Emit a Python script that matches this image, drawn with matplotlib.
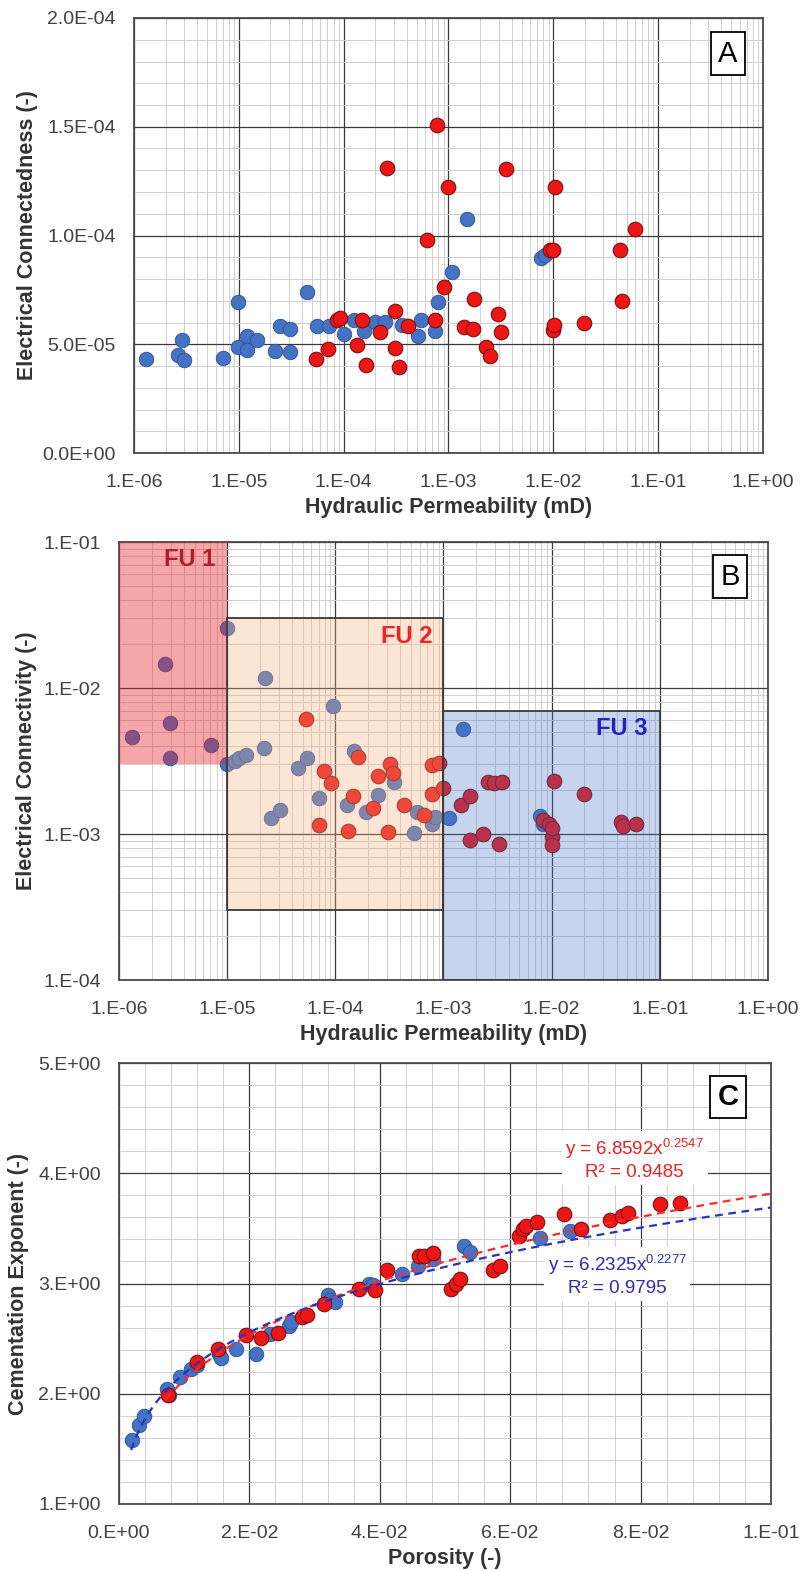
import numpy as np
import matplotlib
matplotlib.use("Agg")
import matplotlib.pyplot as plt
from matplotlib.ticker import FixedLocator, MultipleLocator, LogLocator, NullFormatter
from matplotlib.patches import Rectangle

plt.rcParams['font.family'] = ['Liberation Sans', 'DejaVu Sans']
plt.rcParams['mathtext.fontset'] = 'custom'
plt.rcParams['mathtext.rm'] = 'Liberation Sans'
plt.rcParams['mathtext.it'] = 'Liberation Sans:italic'

# ---------------- Panel A: electrical connectedness vs permeability ----------------
a_blue_perm = [1.3e-6, 2.6e-6, 2.9e-6, 3.0e-6, 7.0e-6, 9.8e-6, 9.8e-6, 1.2e-5, 1.2e-5,
               1.48e-5, 2.2e-5, 2.48e-5, 3.1e-5, 3.1e-5, 4.5e-5, 5.6e-5, 7.2e-5, 1.0e-4,
               1.26e-4, 1.55e-4, 2.0e-4, 2.47e-4, 3.6e-4, 5.1e-4, 5.5e-4, 7.5e-4, 8.0e-4,
               1.07e-3, 1.49e-3, 7.6e-3, 8.3e-3]
a_blue_conn = [43.2, 45.1, 51.8, 42.6, 43.7, 69.3, 48.7, 53.9, 47.5, 52.1, 46.7, 58.2, 57.2,
               46.3, 73.9, 58.2, 58.2, 54.7, 61.0, 55.9, 60.2, 60.2, 59.0, 53.6, 61.0, 55.9,
               69.4, 83.2, 107.7, 89.7, 91.2]
a_red_perm = [5.4e-5, 7.1e-5, 8.7e-5, 9.3e-5, 1.33e-4, 1.5e-4, 1.64e-4, 2.2e-4, 2.6e-4,
              3.1e-4, 3.1e-4, 3.4e-4, 4.1e-4, 6.3e-4, 7.5e-4, 7.7e-4, 9.1e-4, 9.8e-4,
              1.41e-3, 1.73e-3, 1.75e-3, 2.3e-3, 2.48e-3, 2.96e-3, 3.2e-3, 3.5e-3, 9.3e-3,
              9.9e-3, 9.9e-3, 1.02e-2, 1.04e-2, 1.95e-2, 4.3e-2, 4.5e-2, 6.05e-2]
a_red_conn = [43.2, 48.0, 61.3, 62.0, 49.8, 61.0, 40.6, 55.6, 131.0, 65.1, 48.3, 39.4, 58.2,
              98.1, 61.0, 151.0, 76.3, 122.3, 57.8, 57.2, 71.0, 48.7, 44.4, 63.9, 55.6, 130.7,
              93.2, 93.5, 56.7, 59.0, 122.3, 59.8, 93.5, 69.7, 103.0]
a_conn_unit = 1e-6
a_yticks = [0.0, 5e-5, 1e-4, 1.5e-4, 2e-4]
a_yticklabels = ['0.0E+00', '5.0E-05', '1.0E-04', '1.5E-04', '2.0E-04']
perm_ticks = [1e-6, 1e-5, 1e-4, 1e-3, 1e-2, 1e-1, 1e0]
perm_ticklabels = ['1.E-06', '1.E-05', '1.E-04', '1.E-03', '1.E-02', '1.E-01', '1.E+00']

# ---------------- Panel B: electrical connectivity vs permeability ----------------
b_blue_perm = [1.31e-6, 2.64e-6, 2.97e-6, 2.97e-6, 7.05e-6, 1.0e-5, 1.0e-5, 1.19e-5, 1.29e-5,
               1.48e-5, 2.2e-5, 2.23e-5, 2.55e-5, 3.1e-5, 4.5e-5, 5.5e-5, 7.0e-5, 9.6e-5,
               1.27e-4, 1.5e-4, 1.92e-4, 2.5e-4, 3.5e-4, 5.3e-4, 5.7e-4, 7.8e-4, 8.3e-4,
               1.13e-3, 1.52e-3, 7.8e-3, 8.4e-3]
b_blue_conn = [4.6e-3, 1.45e-2, 5.77e-3, 3.33e-3, 4.05e-3, 2.56e-2, 3.0e-3, 3.14e-3, 3.33e-3,
               3.47e-3, 3.9e-3, 1.17e-2, 1.28e-3, 1.47e-3, 2.84e-3, 3.33e-3, 1.76e-3, 7.5e-3,
               1.57e-3, 3.7e-3, 1.41e-3, 1.84e-3, 2.28e-3, 1.02e-3, 1.41e-3, 1.18e-3, 1.3e-3,
               1.29e-3, 5.2e-3, 1.32e-3, 1.18e-3]
b_red_perm = [5.35e-5, 7.0e-5, 7.8e-5, 9.1e-5, 1.3e-4, 1.46e-4, 1.63e-4, 2.25e-4, 2.5e-4,
              3.1e-4, 3.2e-4, 3.4e-4, 4.3e-4, 6.6e-4, 7.8e-4, 7.9e-4, 9.0e-4, 1.0e-3,
              1.44e-3, 1.75e-3, 1.75e-3, 2.34e-3, 2.57e-3, 2.9e-3, 3.26e-3, 3.5e-3, 8.4e-3,
              9.5e-3, 1.0e-2, 1.0e-2, 1.01e-2, 1.05e-2, 1.97e-2, 4.37e-2, 4.6e-2, 6.05e-2]
b_red_conn = [6.1e-3, 1.16e-3, 2.7e-3, 2.24e-3, 1.05e-3, 1.81e-3, 3.37e-3, 1.51e-3, 2.48e-3,
              1.03e-3, 3.0e-3, 2.63e-3, 1.57e-3, 1.35e-3, 1.87e-3, 2.97e-3, 3.05e-3, 2.08e-3,
              1.57e-3, 1.81e-3, 9.1e-4, 1.0e-3, 2.27e-3, 2.25e-3, 8.5e-4, 2.27e-3, 1.24e-3,
              1.18e-3, 9.6e-4, 8.4e-4, 1.1e-3, 2.3e-3, 1.87e-3, 1.21e-3, 1.13e-3, 1.17e-3]
b_yticks = [1e-4, 1e-3, 1e-2, 1e-1]
b_yticklabels = ['1.E-04', '1.E-03', '1.E-02', '1.E-01']
# flow units: name, permeability range, connectivity range
fu_names = ['FU 1', 'FU 2', 'FU 3']
fu_perm_lo = [1e-6, 1e-5, 1e-3]
fu_perm_hi = [1e-5, 1e-3, 1e-1]
fu_conn_lo = [3e-3, 3e-4, 1e-4]
fu_conn_hi = [1e-1, 3e-2, 7e-3]

# ---------------- Panel C: cementation exponent vs porosity ----------------
c_blue_phi = [0.00196, 0.0030, 0.0039, 0.0073, 0.0077, 0.0093, 0.0110, 0.0120, 0.0154,
              0.0156, 0.0179, 0.0210, 0.0232, 0.0260, 0.0264, 0.0320, 0.0323, 0.0332,
              0.0383, 0.0390, 0.0434, 0.0458, 0.0482, 0.0529, 0.0539, 0.0645, 0.0691]
c_blue_m = [1.58, 1.72, 1.80, 2.04, 1.99, 2.15, 2.22, 2.26, 2.36, 2.32, 2.41, 2.36, 2.54,
            2.61, 2.65, 2.90, 2.85, 2.83, 3.00, 2.99, 3.09, 3.16, 3.22, 3.34, 3.29, 3.41, 3.48]
c_red_phi = [0.0075, 0.0119, 0.0152, 0.0195, 0.0218, 0.0244, 0.0281, 0.0288, 0.0314, 0.0368,
             0.0393, 0.0411, 0.0460, 0.0468, 0.0482, 0.0509, 0.0517, 0.0523, 0.0573, 0.0584,
             0.0613, 0.0619, 0.0625, 0.0641, 0.0682, 0.0709, 0.0753, 0.0772, 0.0780, 0.0829,
             0.0860]
c_red_m = [1.99, 2.29, 2.41, 2.53, 2.51, 2.55, 2.70, 2.71, 2.81, 2.95, 2.94, 3.12, 3.25, 3.25,
           3.28, 2.95, 3.00, 3.04, 3.12, 3.16, 3.43, 3.49, 3.52, 3.56, 3.63, 3.49, 3.58, 3.61,
           3.64, 3.72, 3.73]
# power-law trend lines y = a * x^b
red_fit_a, red_fit_b, red_fit_r2 = 6.8592, 0.2547, 0.9485
blue_fit_a, blue_fit_b, blue_fit_r2 = 6.2325, 0.2277, 0.9795
c_xticks = [0.0, 0.02, 0.04, 0.06, 0.08, 0.10]
c_xticklabels = ['0.E+00', '2.E-02', '4.E-02', '6.E-02', '8.E-02', '1.E-01']
c_yticks = [1.0, 2.0, 3.0, 4.0, 5.0]
c_yticklabels = ['1.E+00', '2.E+00', '3.E+00', '4.E+00', '5.E+00']

# ---------------- styling ----------------
W, H = 803, 1571
BLUE = '#4472c4'
BLUE_EDGE = '#2f4f8f'
RED = '#ee1515'
RED_EDGE = '#7a0f0f'
TICK_COLOR = '#404040'
LABEL_COLOR = '#333333'
MAJOR_GRID = dict(color='#3a3a3a', linewidth=0.9)
MINOR_GRID = dict(color='#cfcfcf', linewidth=0.7)
MS = 110

fig = plt.figure(figsize=(W / 100, H / 100), dpi=100)


def px_axes(left, top, right, bottom):
    return fig.add_axes([left / W, 1 - bottom / H, (right - left) / W, (bottom - top) / H])


def style_axes(ax, ylabel, xlabel, ylab_right_px, ax_left_px, ax_w_px, ax_h_px):
    ax.set_axisbelow(True)
    ax.grid(True, which='major', **MAJOR_GRID)
    ax.grid(True, which='minor', **MINOR_GRID)
    ax.tick_params(which='both', length=0, colors=TICK_COLOR, labelsize=14)
    ax.tick_params(axis='y', pad=13)
    ax.tick_params(axis='x', pad=15)
    for sp in ax.spines.values():
        sp.set_color('#4a4a4a')
        sp.set_linewidth(1.3)
    ax.set_ylabel(ylabel, fontsize=15.5, fontweight='bold', color=LABEL_COLOR)
    ax.set_xlabel(xlabel, fontsize=15.5, fontweight='bold', color=LABEL_COLOR)
    ax.yaxis.set_label_coords((ylab_right_px - ax_left_px) / ax_w_px, 0.5)
    ax.xaxis.set_label_coords(0.5, -44 / ax_h_px)


def panel_tag(ax, letter, x, y, bold=False):
    ax.text(x, y, letter, transform=ax.transAxes, ha='center', va='center',
            fontsize=21, fontweight='bold' if bold else 'normal', color='black', zorder=10,
            bbox=dict(boxstyle='square,pad=0.25', fc='white', ec='black', lw=1.3))


# ---- Panel A ----
axA = px_axes(134, 18, 763, 453)
axA.scatter(a_blue_perm, np.array(a_blue_conn) * a_conn_unit, s=MS,
            c=BLUE, edgecolors=BLUE_EDGE, linewidths=0.6, zorder=2)
axA.scatter(a_red_perm, np.array(a_red_conn) * a_conn_unit, s=MS, c=RED, edgecolors=RED_EDGE,
            linewidths=0.8, zorder=2.1)
axA.set_xscale('log')
axA.set_xlim(1e-6, 1e0)
axA.set_ylim(0, 2e-4)
axA.xaxis.set_major_locator(FixedLocator(perm_ticks))
axA.set_xticklabels(perm_ticklabels)
axA.xaxis.set_minor_locator(LogLocator(base=10, subs=np.arange(2, 10)))
axA.xaxis.set_minor_formatter(NullFormatter())
axA.yaxis.set_major_locator(FixedLocator(a_yticks))
axA.set_yticklabels(a_yticklabels)
axA.yaxis.set_minor_locator(MultipleLocator(1e-5))
style_axes(axA, 'Electrical Connectedness (-)', 'Hydraulic Permeability (mD)', 38, 134, 629, 435)
panel_tag(axA, 'A', 0.9436, 0.918)

# ---- Panel B ----
axB = px_axes(119, 542, 768, 980)
axB.scatter(b_blue_perm, b_blue_conn, s=MS, c=BLUE, edgecolors=BLUE_EDGE,
            linewidths=0.6, zorder=2)
axB.scatter(b_red_perm, b_red_conn, s=MS, c=RED, edgecolors=RED_EDGE,
            linewidths=0.8, zorder=2.1)
fu_faces = [(0.91, 0.13, 0.16, 0.40), (0.96, 0.69, 0.51, 0.33), (0.27, 0.45, 0.77, 0.30)]
fu_edges = ['none', '#3a3a3a', '#3a3a3a']
for lo_x, hi_x, lo_y, hi_y, fc, ec in zip(fu_perm_lo, fu_perm_hi, fu_conn_lo, fu_conn_hi,
                                          fu_faces, fu_edges):
    axB.add_patch(Rectangle((lo_x, lo_y), hi_x - lo_x, hi_y - lo_y, facecolor=fc,
                            edgecolor=ec, linewidth=1.3, zorder=3))
fu_text_x = [4.46e-6, 4.58e-4, 4.47e-2]
fu_text_y = [0.0755, 0.02254, 5.31e-3]
fu_colors = ['#b01c28', '#f52020', '#2222c0']
for name, tx, ty, col in zip(fu_names, fu_text_x, fu_text_y, fu_colors):
    axB.text(tx, ty, name, ha='center', va='center', fontsize=17, fontweight='bold',
             color=col, zorder=4)
axB.set_xscale('log')
axB.set_yscale('log')
axB.set_xlim(1e-6, 1e0)
axB.set_ylim(1e-4, 1e-1)
axB.xaxis.set_major_locator(FixedLocator(perm_ticks))
axB.set_xticklabels(perm_ticklabels)
axB.xaxis.set_minor_locator(LogLocator(base=10, subs=np.arange(2, 10)))
axB.xaxis.set_minor_formatter(NullFormatter())
axB.yaxis.set_major_locator(FixedLocator(b_yticks))
axB.set_yticklabels(b_yticklabels)
axB.yaxis.set_minor_locator(LogLocator(base=10, subs=np.arange(2, 10)))
axB.yaxis.set_minor_formatter(NullFormatter())
style_axes(axB, 'Electrical Connectivity (-)', 'Hydraulic Permeability (mD)', 37, 119, 649, 438)
panel_tag(axB, 'B', 0.942, 0.921)

# ---- Panel C ----
axC = px_axes(119, 1063, 771, 1504)
axC.scatter(c_blue_phi, c_blue_m, s=MS, c=BLUE, edgecolors=BLUE_EDGE, linewidths=0.6,
            zorder=2)
axC.scatter(c_red_phi, c_red_m, s=MS, c=RED, edgecolors=RED_EDGE, linewidths=0.8,
            zorder=2.1)
xr = np.linspace(min(c_red_phi) * 0.95, 0.1, 200)
xb = np.linspace(min(c_blue_phi) * 0.95, 0.1, 200)
axC.plot(xr, red_fit_a * xr ** red_fit_b, ls=(0, (3.5, 2.5)), color='#ff2a2a', lw=1.6,
         zorder=2.5)
axC.plot(xb, blue_fit_a * xb ** blue_fit_b, ls=(0, (3.5, 2.5)), color='#2433c4', lw=1.6,
         zorder=2.5)
axC.text(0.0791, 4.132,
         rf'y = {red_fit_a:.4f}x$^{{{red_fit_b:.4f}}}$' + f'\nR² = {red_fit_r2:.4f}',
         ha='center', va='center', fontsize=13.5, color='#f02020', linespacing=1.25,
         zorder=5, bbox=dict(boxstyle='square,pad=0.2', fc='white', ec='none'))
axC.text(0.0764, 3.08,
         rf'y = {blue_fit_a:.4f}x$^{{{blue_fit_b:.4f}}}$' + f'\nR² = {blue_fit_r2:.4f}',
         ha='center', va='center', fontsize=13.5, color='#2b2bb8', linespacing=1.25,
         zorder=5, bbox=dict(boxstyle='square,pad=0.2', fc='white', ec='none'))
axC.set_xlim(0, 0.1)
axC.set_ylim(1, 5)
axC.xaxis.set_major_locator(FixedLocator(c_xticks))
axC.set_xticklabels(c_xticklabels)
axC.xaxis.set_minor_locator(MultipleLocator(0.004))
axC.yaxis.set_major_locator(FixedLocator(c_yticks))
axC.set_yticklabels(c_yticklabels)
axC.yaxis.set_minor_locator(MultipleLocator(0.2))
style_axes(axC, 'Cementation Exponent (-)', 'Porosity (-)', 29, 119, 652, 441)
panel_tag(axC, 'C', 0.934, 0.923, bold=True)

fig.savefig('out.png', dpi=100)
